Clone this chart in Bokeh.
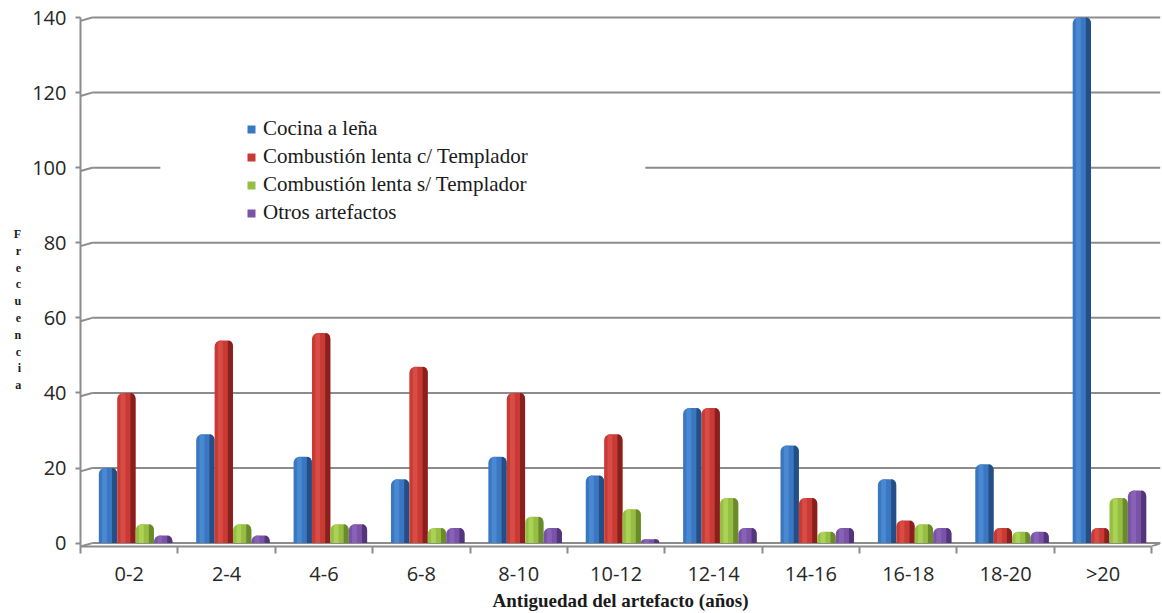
from bokeh.plotting import figure
from bokeh.models import FixedTicker, Legend, LegendItem, BoxAnnotation
from bokeh.embed import file_html
from bokeh.resources import INLINE

# Frecuencia de artefactos según su antigüedad
categorias = ["0-2", "2-4", "4-6", "6-8", "8-10", "10-12", "12-14", "14-16", "16-18", "18-20", ">20"]
cocina_lena = [20, 29, 23, 17, 23, 18, 36, 26, 17, 21, 140]
comb_con_templador = [40, 54, 56, 47, 40, 29, 36, 12, 6, 4, 4]
comb_sin_templador = [5, 5, 5, 4, 7, 9, 12, 3, 5, 3, 12]
otros_artefactos = [2, 2, 5, 4, 4, 1, 4, 4, 4, 3, 14]
nombres_series = ["Cocina a leña", "Combustión lenta c/ Templador",
                  "Combustión lenta s/ Templador", "Otros artefactos"]
marcas_y = [0, 20, 40, 60, 80, 100, 120, 140]

series = [cocina_lena, comb_con_templador, comb_sin_templador, otros_artefactos]
# (medio, oscuro, claro) para dar volumen a cada columna
colores = [
    ("#3a77c0", "#244f86", "#4f8fd8"),
    ("#c93a34", "#8a201d", "#dc534c"),
    ("#97bd44", "#6a8b29", "#addb5a"),
    ("#7a52a8", "#52357a", "#8d68bb"),
]

n = len(categorias)
y0, y1 = -0.9, 143.2
desfase = 0.9  # caída del tramo inclinado de cada línea de división
p = figure(width=1162, height=613, x_range=(0, 11.09), y_range=(y0, y1),
           min_border_left=80, min_border_right=2, min_border_top=5, min_border_bottom=65,
           output_backend="svg", toolbar_location=None, outline_line_color=None,
           background_fill_color="white", border_fill_color="white")
p.xgrid.visible = False
p.ygrid.visible = False

# líneas de división de la pared del fondo, con su tramo inclinado hacia el eje
gris = "#8c8c8c"
p.segment(x0=[0.12] * len(marcas_y), y0=marcas_y, x1=[11.09] * len(marcas_y), y1=marcas_y,
          line_color=gris, line_width=2)
p.segment(x0=[0] * len(marcas_y), y0=[v - desfase for v in marcas_y],
          x1=[0.12] * len(marcas_y), y1=marcas_y, line_color=gris, line_width=2)
p.segment(x0=[11.0], y0=[-desfase], x1=[11.09], y1=[0], line_color=gris, line_width=2)

ancho = 0.188
paso = 0.189
renderers = []
for k, (vals, (medio, oscuro, claro)) in enumerate(zip(series, colores)):
    xs = [i + 0.282 + k * paso for i in range(n)]
    r = p.vbar(x=xs, top=vals, bottom=0, width=ancho, fill_color=medio, line_color=None,
               border_radius=(6, 6, 0, 0))
    p.vbar(x=[x + ancho / 2 - 0.026 for x in xs], top=vals, bottom=0, width=0.052,
           fill_color=oscuro, line_color=None, border_radius=(0, 6, 0, 0))
    p.vbar(x=[x - 0.035 for x in xs], top=vals, bottom=0, width=0.05,
           fill_color=claro, fill_alpha=0.75, line_color=None, border_radius=(2, 2, 0, 0))
    renderers.append(r)

# eje X
p.xaxis.ticker = FixedTicker(ticks=[i + 0.5 for i in range(n)],
                             minor_ticks=list(range(n + 1)))
p.xaxis.major_label_overrides = {i + 0.5: c for i, c in enumerate(categorias)}
p.xaxis.bounds = (0, 11)
p.xaxis.axis_line_color = gris
p.xaxis.axis_line_width = 2
p.xaxis.major_tick_line_color = None
p.xaxis.major_tick_out = 0
p.xaxis.major_tick_in = 0
p.xaxis.minor_tick_line_color = gris
p.xaxis.minor_tick_line_width = 2
p.xaxis.minor_tick_out = 7
p.xaxis.minor_tick_in = 0
p.xaxis.major_label_standoff = 6
p.xaxis.major_label_text_font = "Open Sans"
p.xaxis.major_label_text_font_size = "20px"
p.xaxis.major_label_text_color = "#262626"
p.xaxis.axis_label = "Antiguedad del artefacto (años)"
p.xaxis.axis_label_standoff = 0
p.xaxis.axis_label_text_font = "Liberation Serif"
p.xaxis.axis_label_text_font_size = "19px"
p.xaxis.axis_label_text_font_style = "bold"
p.xaxis.axis_label_text_color = "#1a1a1a"

# eje Y
p.yaxis.ticker = FixedTicker(ticks=marcas_y, minor_ticks=[])
p.yaxis.bounds = (y0, 140)
p.yaxis.axis_line_color = gris
p.yaxis.axis_line_width = 2
p.yaxis.major_tick_line_color = gris
p.yaxis.major_tick_line_width = 2
p.yaxis.major_tick_out = 5
p.yaxis.major_tick_in = 0
p.yaxis.minor_tick_line_color = None
p.yaxis.major_label_standoff = 9
p.yaxis.major_label_text_font = "Open Sans"
p.yaxis.major_label_text_font_size = "20px"
p.yaxis.major_label_text_color = "#262626"
# título vertical con una letra por renglón (los renglones en blanco lo bajan)
p.yaxis.axis_label = "\n".join([" "] * 4 + list("Frecuencia"))
p.yaxis.axis_label_standoff = 8
p.yaxis.axis_label_text_font = "Liberation Serif"
p.yaxis.axis_label_text_font_size = "12px"
p.yaxis.axis_label_text_font_style = "bold"
p.yaxis.axis_label_text_color = "#1a1a1a"
eje_y = p.yaxis[0]
if "axis_label_orientation" in eje_y.properties():
    eje_y.axis_label_orientation = "horizontal"

# fondo blanco detrás de la leyenda
p.add_layout(BoxAnnotation(left=0.82, right=5.8, bottom=96.5, top=103.5,
                           fill_color="white", fill_alpha=1, line_color=None))

leyenda = Legend(items=[LegendItem(label=nm, renderers=[r]) for nm, r in zip(nombres_series, renderers)],
                 location=(166, 321), orientation="vertical",
                 label_text_font="Liberation Serif", label_text_font_size="21px",
                 label_text_color="#1a1a1a", glyph_width=10, glyph_height=10,
                 label_standoff=7, label_height=25, spacing=3, padding=0, margin=0,
                 border_line_color=None, background_fill_alpha=0)
p.add_layout(leyenda)

open("out.html", "w").write(file_html(p, INLINE))
